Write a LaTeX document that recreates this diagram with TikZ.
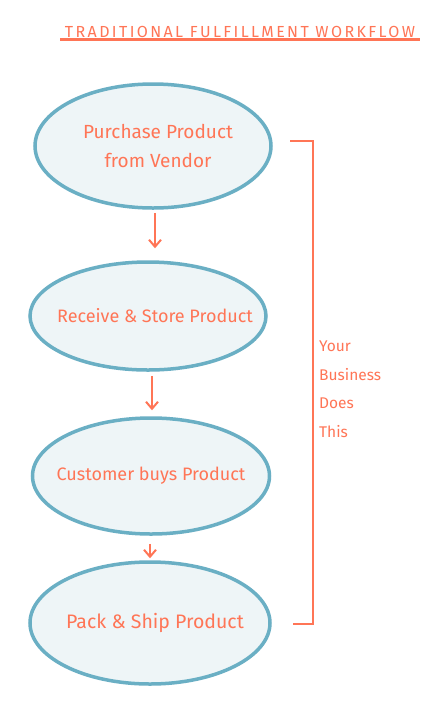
\documentclass[tikz,border=0pt]{standalone}
\usepackage{fontspec}
\setmainfont{Fira Sans}
\usetikzlibrary{shapes.geometric,arrows.meta}
\usepackage{xcolor}
\definecolor{StepLine}{HTML}{6AAFC4}
\definecolor{StepFill}{HTML}{EEF5F7}
\definecolor{InkCoral}{HTML}{FF7556}

\begin{document}
\begin{tikzpicture}[x=1pt, y=-1pt,
  stepnode/.style={ellipse, draw=StepLine, fill=StepFill, line width=3.5pt, inner sep=0pt},
  steptext/.style={text=InkCoral, align=center, inner sep=0pt},
  flowarrow/.style={draw=InkCoral, line width=2pt, -{Straight Barb[length=7pt,width=12pt]}}]

  % Rahmen
  \useasboundingbox[fill=white] (0,0) rectangle (440,716);

  % Titel
  \node[anchor=base, text=InkCoral, inner sep=2.5pt,
    font=\fontsize{16}{16}\selectfont\addfontfeature{LetterSpace=15}] (title) at (240,37)
    {TRADITIONAL FULFILLMENT WORKFLOW};
  \draw[InkCoral, line width=3pt] ([xshift=-2pt]title.south west) -- ([xshift=2pt]title.south east);

  % Prozessschritte (Text als Label, damit die Ellipse ihre Groesse behaelt)
  \node[stepnode, minimum width=236pt, minimum height=124pt,
    label={[steptext, font=\fontsize{19}{29}\selectfont, xshift=5pt]center:Purchase Product\\from Vendor}] (purchase) at (153,146) {};
  \node[stepnode, minimum width=236pt, minimum height=108pt,
    label={[steptext, font=\fontsize{18}{20}\selectfont, xshift=7pt]center:Receive \& Store Product}] (receive) at (148,316) {};
  \node[stepnode, minimum width=237pt, minimum height=116pt,
    label={[steptext, font=\fontsize{18}{20}\selectfont]center:Customer buys Product}] (customer) at (151,476) {};
  \node[stepnode, minimum width=240pt, minimum height=122pt,
    label={[steptext, font=\fontsize{19.5}{20}\selectfont, xshift=5pt]center:Pack \& Ship Product}] (pack) at (150,623) {};

  % Pfeile
  \draw[flowarrow] ([xshift=2pt,yshift=-3pt]purchase.south) -- ([xshift=7pt,yshift=12pt]receive.north);
  \draw[flowarrow] ([xshift=4pt,yshift=-4pt]receive.south) -- ([xshift=1pt,yshift=6pt]customer.north);
  \draw[flowarrow] ([xshift=-1pt,yshift=-8pt]customer.south) -- ([yshift=2pt]pack.north);

  % Klammer
  \coordinate (brtop) at (290,141);
  \coordinate (brbot) at (293,624);
  \draw[InkCoral, line width=2.5pt] (brtop) -- (313,141) -- (313,624) -- (brbot);
  \node[anchor=north west, text=InkCoral, align=left, inner sep=0pt,
    font=\fontsize{15.5}{28.5}\selectfont] (yourbiz) at (319,341)
    {Your\\Business\\Does\\This};

\end{tikzpicture}
\end{document}
